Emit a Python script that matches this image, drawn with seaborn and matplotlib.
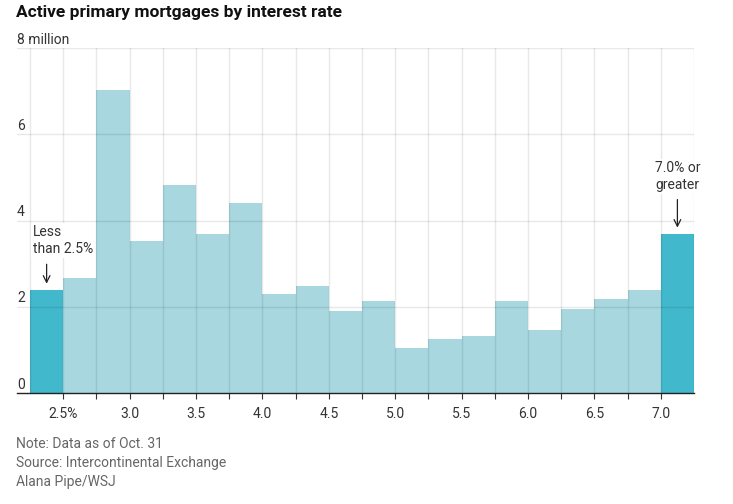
import matplotlib
matplotlib.use("Agg")
import matplotlib.pyplot as plt
import matplotlib.transforms as mtransforms
import seaborn as sns
import numpy as np
import pandas as pd

# ---- data ----
bin_lower = [2.25, 2.5, 2.75, 3.0, 3.25, 3.5, 3.75, 4.0, 4.25, 4.5, 4.75,
             5.0, 5.25, 5.5, 5.75, 6.0, 6.25, 6.5, 6.75, 7.0]
mortgages_m = [2.39, 2.67, 7.03, 3.52, 4.82, 3.68, 4.40, 2.30, 2.47, 1.89, 2.13,
               1.04, 1.25, 1.33, 2.13, 1.47, 1.94, 2.18, 2.40, 3.69]
group = ["end"] + ["mid"] * 18 + ["end"]
bin_width = 0.25
x_tick_values = [2.5, 3.0, 3.5, 4.0, 4.5, 5.0, 5.5, 6.0, 6.5, 7.0]
x_tick_labels = ["2.5%", "3.0", "3.5", "4.0", "4.5", "5.0", "5.5", "6.0", "6.5", "7.0"]
y_ticks = [0, 2, 4, 6, 8]
y_tick_labels = ["0", "2", "4", "6", "8 million"]
title = "Active primary mortgages by interest rate"
notes = ["Note: Data as of Oct. 31", "Source: Intercontinental Exchange", "Alana Pipe/WSJ"]

sns.set_theme(style="white")
plt.rcParams["font.family"] = ["Roboto", "DejaVu Sans"]

df = pd.DataFrame({"center": np.array(bin_lower) + bin_width / 2,
                   "value": mortgages_m, "group": group})

fig = plt.figure(figsize=(7.33, 5.04), dpi=100)
ax = fig.add_axes([17 / 733, 1 - 393 / 504, (694 - 17) / 733, (393 - 48) / 504])

sns.barplot(data=df, x="center", y="value", hue="group", native_scale=True,
            dodge=False, width=1.0, palette={"end": "#41b8cb", "mid": "#a8d7e0"},
            linewidth=0, saturation=1, legend=False, ax=ax)

edges = list(bin_lower) + [bin_lower[-1] + bin_width]
ax.set_xlim(bin_lower[0] - 0.098, edges[-1])
ax.set_ylim(0, 8)

# gridlines on top (semi-transparent so they show through bars)
for e in edges:
    ax.axvline(e, color="black", alpha=0.09, lw=1, zorder=3)
for yv in y_ticks[1:]:
    ax.axhline(yv, color="black", alpha=0.09, lw=1, zorder=3)

# x ticks
minor = edges[1:-1]
ax.set_xticks(minor, minor=True)
ax.set_xticks(x_tick_values)
ax.set_xticklabels(x_tick_labels)
ax.tick_params(axis="x", which="both", direction="out", length=4, width=0.8,
               color="#333333", bottom=True)
ax.tick_params(axis="x", which="major", labelsize=10, labelcolor="#333333", pad=6)
ax.set_yticks([])
ax.set_xlabel("")
ax.set_ylabel("")
for s in ["top", "right", "left"]:
    ax.spines[s].set_visible(False)
ax.spines["bottom"].set_color("#222222")
ax.spines["bottom"].set_linewidth(1.0)
ax.spines["bottom"].set_zorder(4)

# y labels just above gridlines
trans = mtransforms.blended_transform_factory(ax.transAxes, ax.transData)
for yv, lab in zip(y_ticks, y_tick_labels):
    ax.text(0.0, yv + 0.1, lab, transform=trans, ha="left", va="baseline",
            fontsize=10, color="#333333")

# annotations
ax.annotate("", xy=(df["center"].iloc[0], mortgages_m[0] + 0.08),
            xytext=(df["center"].iloc[0], mortgages_m[0] + 0.66),
            arrowprops=dict(arrowstyle="->", color="#222222", lw=0.9), zorder=6)
ax.text(bin_lower[0] + 0.02, 3.9, "Less\nthan 2.5%", ha="left", va="top",
        fontsize=10, color="#333333", linespacing=1.25,
        bbox=dict(facecolor="white", edgecolor="none", pad=1.5), zorder=5)
ax.annotate("", xy=(df["center"].iloc[-1], mortgages_m[-1] + 0.08),
            xytext=(df["center"].iloc[-1], mortgages_m[-1] + 0.86),
            arrowprops=dict(arrowstyle="->", color="#222222", lw=0.9), zorder=6)
ax.text(df["center"].iloc[-1], 5.38, "7.0% or\ngreater", ha="center", va="top",
        fontsize=10, color="#333333", linespacing=1.25,
        bbox=dict(facecolor="white", edgecolor="none", pad=1.5), zorder=5)

fig.text(16 / 733, 1 - 13 / 504, title, ha="left", va="center",
         fontsize=12.5, fontweight="bold", color="#111111")
for i, line in enumerate(notes):
    fig.text(16 / 733, 1 - (444 + i * 19) / 504, line, ha="left", va="center",
             fontsize=10, color="#666666")

fig.savefig("out.png", dpi=100)
